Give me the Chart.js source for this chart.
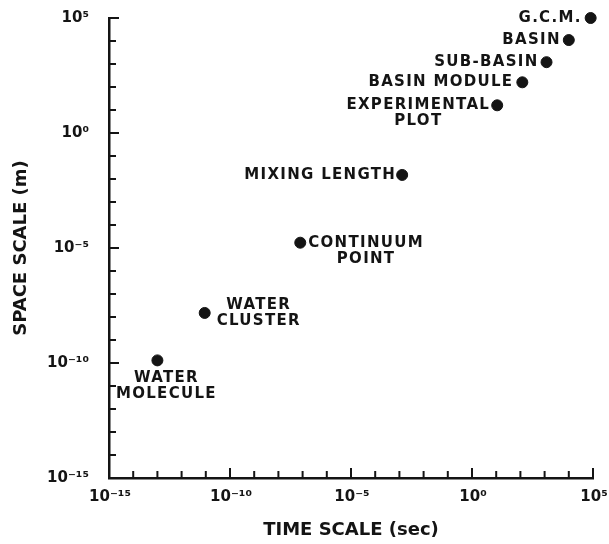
<!DOCTYPE html>
<html><head><meta charset="utf-8">
<script src="https://cdn.jsdelivr.net/npm/chart.js@4"></script>
<style>html,body{margin:0;padding:0;background:#fff;} #wrap{width:609px;height:544px;}</style>
</head><body><div id="wrap"><canvas id="c"></canvas></div>
<script>
// ---- data ----
const categories = ['G.C.M.', 'BASIN', 'SUB-BASIN', 'BASIN MODULE', 'EXPERIMENTAL\nPLOT', 'MIXING LENGTH', 'CONTINUUM\nPOINT', 'WATER\nCLUSTER', 'WATER\nMOLECULE'];
const timeScaleSec = [8e4, 1e4, 1.2e3, 1.2e2, 1.1e1, 1.3e-3, 8e-8, 9e-12, 1e-13];
const spaceScaleM = [1e5, 1.1e4, 1.2e3, 1.6e2, 1.6e1, 1.5e-2, 1.7e-5, 1.5e-8, 1.3e-10];
const decadeTicks = [1e-15, 1e-14, 1e-13, 1e-12, 1e-11, 1e-10, 1e-9, 1e-8, 1e-7, 1e-6, 1e-5, 1e-4, 1e-3, 1e-2, 1e-1, 1e0, 1e1, 1e2, 1e3, 1e4, 1e5];
const majorTickExponents = [-15, -10, -5, 0, 5];
const majorTickLabels = ['10⁻¹⁵', '10⁻¹⁰', '10⁻⁵', '10⁰', '10⁵'];
const xAxisTitle = 'TIME SCALE (sec)';
const yAxisTitle = 'SPACE SCALE (m)';

// ---- styling ----
const INK = '#141414';
const FONT = 'DejaVu Sans';
const labelPlacement = [
  {anchor: 'right', dx: -9, dy: 0},
  {anchor: 'right', dx: -8, dy: 0},
  {anchor: 'right', dx: -8, dy: 0},
  {anchor: 'right', dx: -9, dy: 0},
  {anchor: 'right', dx: -7, dy: 0},
  {anchor: 'right', dx: -6, dy: 0},
  {anchor: 'left', dx: 8, dy: 0},
  {anchor: 'left', dx: 12, dy: -8},
  {anchor: 'center', dx: 9, dy: 18}
];

function tickLabel(value) {
  const e = Math.round(Math.log10(value));
  const i = majorTickExponents.indexOf(e);
  return i >= 0 ? majorTickLabels[i] : '';
}
function setDecades(scale) {
  scale.ticks = decadeTicks.map(v => ({value: v, major: majorTickExponents.includes(Math.round(Math.log10(v)))}));
}

const inwardTicks = {
  id: 'inwardTicks',
  afterDraw(chart) {
    const ctx = chart.ctx;
    const {x, y} = chart.scales;
    const area = chart.chartArea;
    ctx.save();
    ctx.strokeStyle = INK;
    ctx.lineWidth = 2;
    ctx.lineCap = 'butt';
    decadeTicks.forEach(v => {
      const major = majorTickExponents.includes(Math.round(Math.log10(v)));
      const len = major ? 10 : 7;
      const px = x.getPixelForValue(v);
      ctx.beginPath(); ctx.moveTo(px, area.bottom); ctx.lineTo(px, area.bottom - len); ctx.stroke();
      const py = y.getPixelForValue(v);
      ctx.beginPath(); ctx.moveTo(area.left, py); ctx.lineTo(area.left + len, py); ctx.stroke();
    });
    ctx.restore();
  }
};

const pointLabels = {
  id: 'pointLabels',
  afterDatasetsDraw(chart) {
    const ctx = chart.ctx;
    const meta = chart.getDatasetMeta(0);
    ctx.save();
    ctx.fillStyle = INK;
    ctx.font = 'bold 15px "' + FONT + '"';
    try { ctx.letterSpacing = '1.3px'; } catch (e) {}
    ctx.textBaseline = 'middle';
    ctx.textAlign = 'center';
    const lh = 16;
    meta.data.forEach((pt, i) => {
      const lines = categories[i].split('\n');
      const pl = labelPlacement[i];
      const w = Math.max(...lines.map(l => ctx.measureText(l).width));
      let cx;
      if (pl.anchor === 'right') cx = pt.x + pl.dx - w / 2;
      else if (pl.anchor === 'left') cx = pt.x + pl.dx + w / 2;
      else cx = pt.x + pl.dx;
      lines.forEach((l, k) => ctx.fillText(l, cx, pt.y + pl.dy + k * lh));
    });
    ctx.restore();
  }
};

Chart.defaults.font.family = FONT;
Chart.defaults.color = INK;

new Chart(document.getElementById('c'), {
  type: 'scatter',
  data: {
    labels: categories,
    datasets: [{
      data: timeScaleSec.map((t, i) => ({x: t, y: spaceScaleM[i]})),
      backgroundColor: INK,
      borderColor: INK,
      pointRadius: 5.5,
      pointHoverRadius: 5.5,
      clip: false
    }]
  },
  options: {
    responsive: true,
    maintainAspectRatio: false,
    animation: false,
    events: [],
    layout: {padding: {left: 0, right: 16, top: 18, bottom: 0}},
    plugins: {legend: {display: false}, tooltip: {enabled: false}},
    scales: {
      x: {
        type: 'logarithmic',
        position: 'bottom',
        min: 1e-15, max: 1e5,
        afterBuildTicks: setDecades,
        afterFit: s => { s.height = 66; s.paddingLeft = 0; s.paddingRight = 0; },
        grid: {display: false, drawTicks: false},
        border: {display: true, color: INK, width: 2.5},
        ticks: {callback: tickLabel, autoSkip: false, maxRotation: 0, padding: 10, labelOffset: 1, color: INK, font: {size: 15, weight: 'bold'}},
        title: {display: true, text: xAxisTitle, color: INK, font: {size: 18, weight: 'bold'}, padding: {top: 0, bottom: 3}}
      },
      y: {
        type: 'logarithmic',
        position: 'left',
        min: 1e-15, max: 1e5,
        afterBuildTicks: setDecades,
        afterFit: s => { s.width = 109; s.paddingTop = 0; s.paddingBottom = 0; },
        grid: {display: false, drawTicks: false},
        border: {display: true, color: INK, width: 2.5},
        ticks: {callback: tickLabel, autoSkip: false, padding: 20, color: INK, font: {size: 15, weight: 'bold'}},
        title: {display: true, text: yAxisTitle, color: INK, font: {size: 18, weight: 'bold'}, padding: {top: 11, bottom: 0}}
      }
    }
  },
  plugins: [inwardTicks, pointLabels]
});
</script>
</body></html>
